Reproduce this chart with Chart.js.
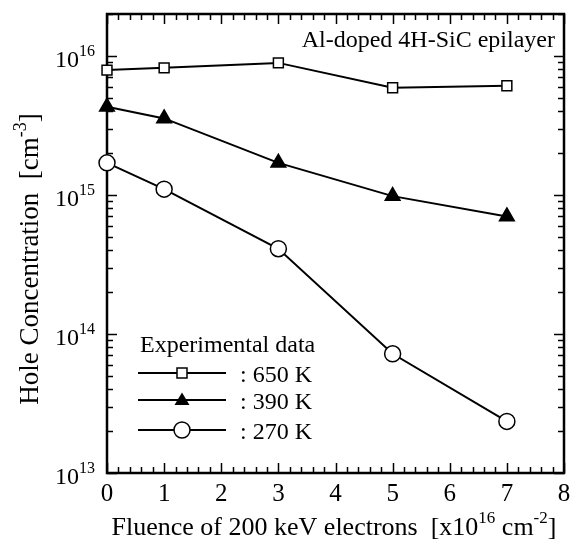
<!DOCTYPE html>
<html>
<head>
<meta charset="utf-8">
<script src="https://cdn.jsdelivr.net/npm/chart.js@4.4.1/dist/chart.umd.min.js"></script>
<style>
  html, body { margin: 0; padding: 0; background: #fff; }
  #chart { display: block; }
</style>
</head>
<body>
<canvas id="chart" width="574" height="545"></canvas>
<script>
// Hole concentration vs. electron fluence (Al-doped 4H-SiC)
const fluence = [0, 1, 3, 5, 7];
const conc650 = [7.9e15, 8.2e15, 8.9e15, 5.9e15, 6.1e15];
const conc390 = [4.3e15, 3.55e15, 1.7e15, 9.8e14, 7.0e14];
const conc270 = [1.7e15, 1.1e15, 4.1e14, 7.2e13, 2.35e13];
const xTicks = [0, 1, 2, 3, 4, 5, 6, 7, 8];
const yDecades = [13, 14, 15, 16];
const legendLabels = [": 650 K", ": 390 K", ": 270 K"];

const FONT = '"Liberation Serif", "Times New Roman", serif';

function pts(ys) {
  return fluence.map((x, i) => ({ x: x, y: ys[i] }));
}

// text with superscript pieces: parts = [[text, isSup], ...]
function drawParts(ctx, parts, x, y, size, align) {
  const supSize = Math.round(size * 0.66);
  let w = 0;
  parts.forEach(p => {
    ctx.font = (p[1] ? supSize : size) + "px " + FONT;
    w += ctx.measureText(p[0]).width;
  });
  let cx = align === "right" ? x - w : align === "center" ? x - w / 2 : x;
  ctx.textBaseline = "alphabetic";
  ctx.textAlign = "left";
  parts.forEach(p => {
    ctx.font = (p[1] ? supSize : size) + "px " + FONT;
    ctx.fillText(p[0], cx, p[1] ? y - size * 0.45 : y);
    cx += ctx.measureText(p[0]).width;
  });
}

function marker(ctx, style, x, y) {
  ctx.save();
  ctx.lineWidth = 1.5;
  ctx.strokeStyle = "#000";
  ctx.beginPath();
  if (style === "rect") {
    ctx.rect(x - 5, y - 5, 10, 10);
    ctx.fillStyle = "#fff";
    ctx.fill();
    ctx.stroke();
  } else if (style === "triangle") {
    ctx.moveTo(x, y - 7.5);
    ctx.lineTo(x + 7.5, y + 5);
    ctx.lineTo(x - 7.5, y + 5);
    ctx.closePath();
    ctx.fillStyle = "#000";
    ctx.fill();
  } else {
    ctx.arc(x, y, 8, 0, Math.PI * 2);
    ctx.fillStyle = "#fff";
    ctx.fill();
    ctx.stroke();
  }
  ctx.restore();
}

const framePlugin = {
  id: "frame",
  beforeDatasetsDraw(chart) {
    const ctx = chart.ctx;
    const a = chart.chartArea;
    const xs = chart.scales.x;
    const ys = chart.scales.y;
    ctx.save();
    ctx.strokeStyle = "#000";
    ctx.lineWidth = 1.5;
    // x ticks, every 0.2
    for (let i = 0; i <= 40; i++) {
      const px = Math.round(xs.getPixelForValue(i * 0.2)) + 0.5;
      const len = i % 5 === 0 ? 10 : 6;
      ctx.beginPath();
      ctx.moveTo(px, a.bottom); ctx.lineTo(px, a.bottom - len);
      ctx.moveTo(px, a.top); ctx.lineTo(px, a.top + len);
      ctx.stroke();
    }
    // y ticks, 1..9 per decade
    for (let d = 13; d <= 16; d++) {
      for (let m = 1; m <= 9; m++) {
        const v = m * Math.pow(10, d);
        if (v > ys.max) break;
        const py = Math.round(ys.getPixelForValue(v)) + 0.5;
        const len = m === 1 ? 10 : 6;
        ctx.beginPath();
        ctx.moveTo(a.left, py); ctx.lineTo(a.left + len, py);
        ctx.moveTo(a.right, py); ctx.lineTo(a.right - len, py);
        ctx.stroke();
      }
    }
    ctx.lineWidth = 2.5;
    ctx.strokeRect(a.left, a.top, a.right - a.left, a.bottom - a.top);
    ctx.restore();
  },
  afterDraw(chart) {
    const ctx = chart.ctx;
    const a = chart.chartArea;
    const xs = chart.scales.x;
    const ys = chart.scales.y;
    ctx.save();
    ctx.fillStyle = "#000";
    // x tick labels
    xTicks.forEach(t => {
      drawParts(ctx, [[String(t), false]], xs.getPixelForValue(t), 501, 25, "center");
    });
    // y tick labels
    yDecades.forEach(d => {
      const py = ys.getPixelForValue(Math.pow(10, d));
      drawParts(ctx, [["10", false], [String(d), true]], 95, py + 11, 24, "right");
    });
    // axis titles
    drawParts(ctx, [["Fluence of 200 keV electrons  [x10", false], ["16", true], [" cm", false], ["-2", true], ["]", false]],
      334, 535, 26, "center");
    ctx.save();
    ctx.translate(38, 259);
    ctx.rotate(-Math.PI / 2);
    drawParts(ctx, [["Hole Concentration  [cm", false], ["-3", true], ["]", false]], 0, 0, 27, "center");
    ctx.restore();
    // annotation
    drawParts(ctx, [["Al-doped 4H-SiC epilayer", false]], 555, 47, 24, "right");
    // legend
    drawParts(ctx, [["Experimental data", false]], 140, 352, 24, "left");
    const rows = [373, 400, 430];
    const styles = ["rect", "triangle", "circle"];
    rows.forEach((ry, i) => {
      ctx.save();
      ctx.strokeStyle = "#000";
      ctx.lineWidth = 2;
      ctx.beginPath();
      ctx.moveTo(138, ry); ctx.lineTo(226, ry);
      ctx.stroke();
      ctx.restore();
      marker(ctx, styles[i], 182, ry);
      drawParts(ctx, [[legendLabels[i], false]], 240, ry + 9, 24, "left");
    });
    ctx.restore();
  }
};

function series(ys, style, fill, radius) {
  return {
    data: pts(ys),
    borderColor: "#000",
    borderWidth: 2,
    pointStyle: style,
    pointRadius: radius,
    pointBackgroundColor: fill,
    pointBorderColor: "#000",
    pointBorderWidth: 1.5,
    clip: false,
    tension: 0
  };
}

new Chart(document.getElementById("chart"), {
  type: "line",
  data: {
    datasets: [
      series(conc650, "rect", "#fff", 7),
      series(conc390, "triangle", "#000", 8.5),
      series(conc270, "circle", "#fff", 8)
    ]
  },
  options: {
    responsive: false,
    animation: false,
    layout: { padding: { left: 107, right: 9, top: 14, bottom: 72 } },
    plugins: { legend: { display: false }, tooltip: { enabled: false } },
    scales: {
      x: { type: "linear", min: 0, max: 8, display: false },
      y: { type: "logarithmic", min: 1e13, max: 2e16, display: false }
    }
  },
  plugins: [framePlugin]
});
</script>
</body>
</html>
